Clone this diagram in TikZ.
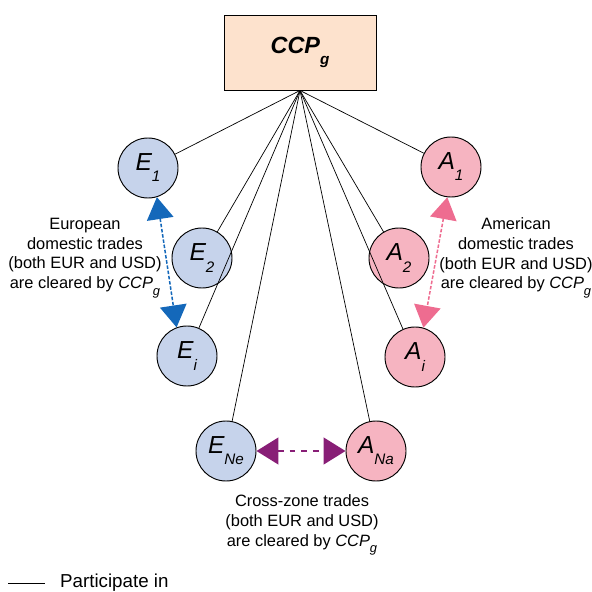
\documentclass[tikz,border=0pt]{standalone}
\usepackage{fontspec}
\setmainfont{Liberation Sans}
\usetikzlibrary{arrows.meta}

\definecolor{eurofill}{RGB}{198,211,235}
\definecolor{amerfill}{RGB}{246,180,193}
\definecolor{ccpfill}{RGB}{253,226,205}
\definecolor{euroarr}{RGB}{20,104,186}
\definecolor{amerarr}{RGB}{238,108,144}
\definecolor{crossarr}{RGB}{136,30,118}

\newcommand{\lowsub}[1]{\raisebox{-0.45em}{\fontsize{13}{13}\selectfont #1}}
\newcommand{\smallsub}[1]{\raisebox{-0.4em}{\fontsize{11}{11}\selectfont #1}}

\begin{document}
\begin{tikzpicture}[x=0.03cm,y=-0.03cm,
  part/.style={circle,draw,line width=0.8pt,minimum size=1.8cm,inner sep=0pt,
    font=\fontsize{21}{21}\selectfont\itshape},
  euro/.style={part,fill=eurofill},
  amer/.style={part,fill=amerfill},
  note/.style={align=center,font=\fontsize{14}{16.8}\selectfont},
  trade/.style={dashed,{Triangle[length=6.6mm,width=8mm]}-{Triangle[length=6.6mm,width=8mm]}}]
\useasboundingbox (0,0) rectangle (591,592);

\node[draw,line width=0.8pt,fill=ccpfill,minimum width=4.56cm,minimum height=2.25cm,
  font=\fontsize{20}{20}\selectfont\bfseries\itshape] (ccp) at (300,52.5) {CCP\lowsub{g}};

\node[euro] (E1) at (148,168) {E\lowsub{1}};
\node[euro] (E2) at (202,258) {E\lowsub{2}};
\node[euro] (Ei) at (187,356) {E\lowsub{i}};
\node[euro] (ENe) at (226,451) {E\lowsub{Ne}};
\node[amer] (A1) at (451,167) {A\lowsub{1}};
\node[amer] (A2) at (399,258) {A\lowsub{2}};
\node[amer] (Ai) at (415,357) {A\lowsub{i}};
\node[amer] (ANa) at (376,451) {A\lowsub{Na}};

% participation links
\foreach \p in {E1,E2,Ei,ENe,A1,A2,Ai,ANa}
  \draw[line width=0.6pt] (ccp.south) -- (\p);

% trades
\draw[trade,euroarr,line width=1.3pt,dash pattern=on 3pt off 1.5pt] (E1.-73) -- (Ei.110);
\draw[trade,amerarr,line width=1.3pt,dash pattern=on 3pt off 1.5pt] (A1.-97) -- (Ai.74);
\draw[trade,crossarr,line width=2.2pt,dash pattern=on 5pt off 5pt] (ENe) -- (ANa);

\node[note] (eurotxt) at (85,258) {European\\domestic trades\\(both EUR and USD)\\are cleared by \textit{CCP}\smallsub{\itshape g}};
\node[note] (amertxt) at (516,258) {American\\domestic trades\\(both EUR and USD)\\are cleared by \textit{CCP}\smallsub{\itshape g}};
\node[note] (crosstxt) at (302,525) {Cross-zone trades\\(both EUR and USD)\\are cleared by \textit{CCP}\smallsub{\itshape g}};

% legend
\coordinate (lega) at (8,583);
\coordinate (legb) at (45,583);
\draw[line width=0.6pt] (lega) -- (legb);
\node[note,anchor=west,font=\fontsize{16}{16}\selectfont] (legtxt) at (56,583) {Participate in};
\end{tikzpicture}
\end{document}
